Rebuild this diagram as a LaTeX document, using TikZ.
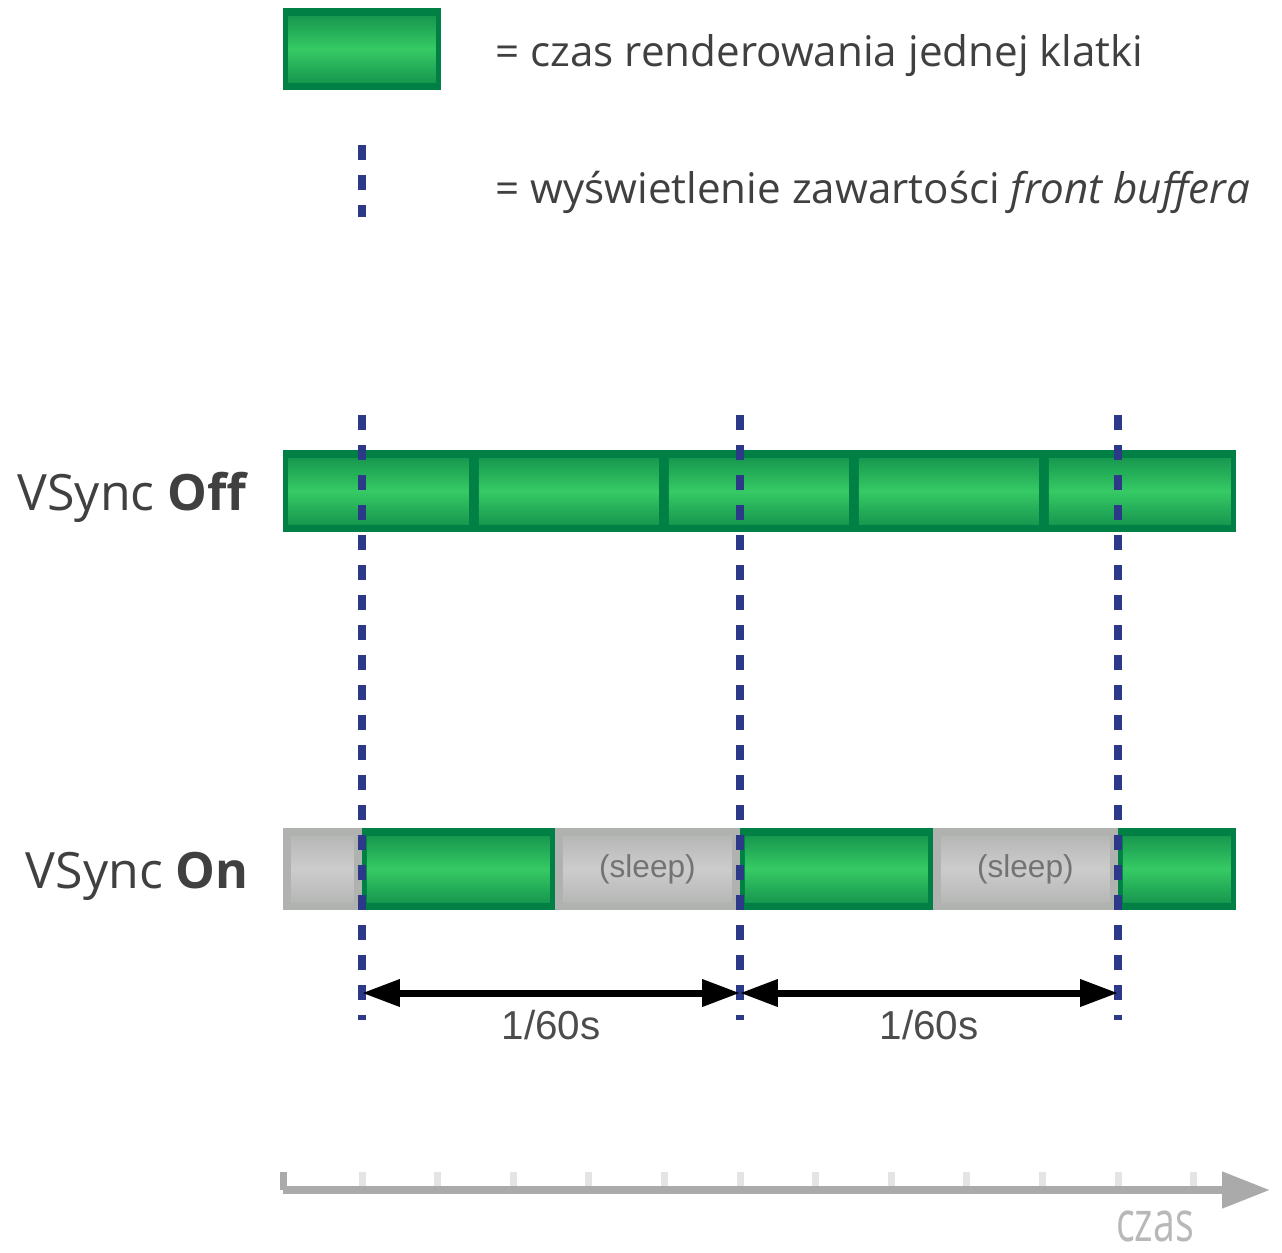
\documentclass[tikz,border=0pt]{standalone}
\usepackage{fontspec}
\setmainfont{Open Sans}
\newfontfamily\arialfont{Liberation Sans}
\newfontfamily\czasfont[FakeStretch=0.7]{Open Sans}
\usepackage{xcolor}
\usepackage{tikz}
\usetikzlibrary{arrows.meta, positioning, calc}
\definecolor{ramka}{RGB}{0, 128, 68}
\definecolor{zielen}{RGB}{16, 140, 74}
\definecolor{jasna}{RGB}{54, 202, 100}
\definecolor{szary}{RGB}{176, 178, 176}
\definecolor{jasnyszary}{RGB}{204, 204, 204}
\definecolor{granat}{RGB}{44, 56, 136}
\definecolor{tekst}{RGB}{64, 64, 64}
\definecolor{os}{RGB}{170, 170, 170}
\definecolor{kreska}{RGB}{228, 228, 228}

\begin{document}
\begin{tikzpicture}[
    x=0.02cm, y=-0.02cm,
    klatka/.style={rectangle, fill=ramka, inner sep=0pt, outer sep=0pt, minimum height=1.64cm, anchor=west,
                path picture={\shade[top color=zielen, bottom color=zielen, middle color=jasna]
                ($(path picture bounding box.north west)+(0.1cm,-0.16cm)$) rectangle
                ($(path picture bounding box.south east)+(-0.1cm,0.16cm)$);}},
    sen/.style={rectangle, fill=szary, inner sep=0pt, outer sep=0pt, minimum height=1.64cm, anchor=west,
                text=black!55, font=\arialfont\fontsize{18}{20}\selectfont,
                path picture={\shade[top color=szary, bottom color=szary, middle color=jasnyszary]
                ($(path picture bounding box.north west)+(0.16cm,-0.16cm)$) rectangle
                ($(path picture bounding box.south east)+(-0.16cm,0.16cm)$);}},
    etykieta/.style={text=tekst, font=\fontsize{28.5}{32}\selectfont, anchor=east, inner sep=0pt},
    opis/.style={text=tekst, font=\fontsize{24}{28}\selectfont, anchor=west, inner sep=0pt},
    vsync/.style={granat, line width=1.6mm, dash pattern=on 3mm off 3mm},
    okres/.style={{Triangle[length=7.6mm, width=5.2mm]}-{Triangle[length=7.6mm, width=5.2mm]}, line width=1.4mm},
    czas/.style={-{Triangle[length=9.6mm, width=7mm]}, os, line width=1.6mm}
]
\useasboundingbox (0,0) rectangle (1282,1252);

% legenda
\node[klatka, minimum width=3.16cm] (leg) at (283,49) {};
\node[opis] (legtxt) at (495,56) {= czas renderowania jednej klatki};
\coordinate (legtop) at (362,145);
\coordinate (legbot) at (362,217);
\node[opis] (vstxt) at (495,192) {= wyświetlenie zawartości \textit{front buffera}};
\draw[vsync] (legtop) -- (legbot);

% VSync Off
\node[etykieta] (off) at (249,497) {VSync \textbf{Off}};
\node[klatka, minimum width=3.82cm] (off1) at (283,491) {};
\node[klatka, minimum width=3.80cm, right=0pt of off1] (off2) {};
\node[klatka, minimum width=3.80cm, right=0pt of off2] (off3) {};
\node[klatka, minimum width=3.80cm, right=0pt of off3] (off4) {};
\node[klatka, minimum width=3.84cm, right=0pt of off4] (off5) {};

% VSync On
\node[etykieta] (on) at (249,876) {VSync \textbf{On}};
\node[sen, minimum width=1.58cm] (on0) at (283,869) {};
\node[klatka, minimum width=3.86cm, right=0pt of on0] (on1) {};
\node[sen, minimum width=3.70cm, right=0pt of on1] (sen1) {(sleep)};
\node[klatka, minimum width=3.86cm, right=0pt of sen1] (on2) {};
\node[sen, minimum width=3.70cm, right=0pt of on2] (sen2) {(sleep)};
\node[klatka, minimum width=2.36cm, right=0pt of sen2] (on3) {};

% odswiezanie ekranu
\coordinate (v1top) at (362,415);
\coordinate (v1bot) at (362,1020);
\coordinate (v2top) at (740,415);
\coordinate (v2bot) at (740,1020);
\coordinate (v3top) at (1118,415);
\coordinate (v3bot) at (1118,1020);
\draw[vsync] (v1top) -- (v1bot);
\draw[vsync] (v2top) -- (v2bot);
\draw[vsync] (v3top) -- (v3bot);

\coordinate (p1) at (362,993);
\coordinate (p2) at (740,993);
\coordinate (p3) at (1118,993);
\draw[okres] (p1) -- node[below=1.6mm, text=black!70, font=\arialfont\fontsize{23}{26}\selectfont] (t1) {1/60s} (p2);
\draw[okres] (p2) -- node[below=1.6mm, text=black!70, font=\arialfont\fontsize{23}{26}\selectfont] (t2) {1/60s} (p3);

% os czasu
\foreach \x in {362,437.6,...,1200}
    \draw[kreska, line width=1.4mm] (\x,1172) -- (\x,1188);
\coordinate (o0) at (283,1190);
\coordinate (o1) at (1270,1190);
\draw[os, line width=1.4mm] (283,1172) -- (o0);
\draw[czas] (o0) -- (o1);
\node[text=black!28, font=\czasfont\fontsize{32}{34}\selectfont, inner sep=0pt] (czas) at (1155,1226) {czas};
\end{tikzpicture}
\end{document}
